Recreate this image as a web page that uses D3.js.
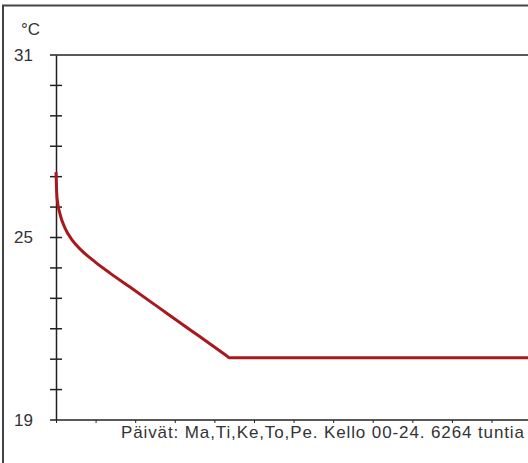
<!DOCTYPE html>
<html>
<head>
<meta charset="utf-8">
<script src="https://cdn.jsdelivr.net/npm/d3@7"></script>
<style>
  html, body { margin: 0; padding: 0; background: #fff; overflow: hidden; }
  text { font-family: "Liberation Sans", Arial, sans-serif; fill: #333; }
</style>
</head>
<body>
<div id="chart"></div>
<script>
// Kestokäyrä: hours sorted by temperature
const hours = [0, 13, 51, 114, 202, 328, 492, 682, 934, 1313, 1692, 2146, 2189, 6264]
const temps = [27.15, 26.3, 25.77, 25.31, 24.92, 24.56, 24.2, 23.83, 23.37, 22.67, 21.97, 21.13, 21.05, 21.05]
const yTicks = [19, 20, 21, 22, 23, 24, 25, 26, 27, 28, 29, 30, 31]
const yLabels = [19, 25, 31]
const xTickStep = 500
const unit = '°C'
const caption = 'Päivät: Ma,Ti,Ke,To,Pe. Kello 00-24. 6264 tuntia'

const width = 528,
height = 463

let svg = d3.select('#chart')
.append('svg')
.attr('width', width)
.attr('height', height)

// outer frame (right and bottom edges are cut off in the picture)
svg.append('path')
.attr('d', `M3,${height} V5.5 H${width}`)
.attr('fill', 'none')
.attr('stroke', '#444')
.attr('stroke-width', 2)

const xScale = d3.scaleLinear()
.domain([0, 6264])
.range([56, 552])

const yScale = d3.scaleLinear()
.domain([19, 31])
.range([420, 55])

// plot top edge
svg.append('line')
.attr('x1', 50).attr('x2', width)
.attr('y1', yScale(31)).attr('y2', yScale(31))
.attr('stroke', '#222')
.attr('stroke-width', 1.5)

// y axis with ticks crossing the line
const yAxis = d3.axisLeft(yScale)
.tickValues(yTicks)
.tickSize(0)
.tickFormat('')

svg.append('g')
.attr('transform', `translate(${xScale(0)},0)`)
.call(yAxis)
.call(g => g.select('.domain').attr('stroke', '#222').attr('stroke-width', 1.5))

svg.append('g')
.selectAll('line')
.data(yTicks.filter(d => d > 19 && d < 31))
.enter()
.append('line')
.attr('x1', xScale(0) - 6).attr('x2', xScale(0) + 6)
.attr('y1', d => yScale(d)).attr('y2', d => yScale(d))
.attr('stroke', '#222')
.attr('stroke-width', 1.5)

svg.append('line')
.attr('x1', 50).attr('x2', xScale(0))
.attr('y1', yScale(19)).attr('y2', yScale(19))
.attr('stroke', '#222')
.attr('stroke-width', 1.5)

svg.append('g')
.selectAll('text')
.data(yLabels)
.enter()
.append('text')
.attr('x', 33)
.attr('y', d => yScale(d))
.attr('dy', '0.35em')
.attr('text-anchor', 'end')
.style('font-size', '17px')
.text(d => d)

svg.append('text')
.attr('x', 21)
.attr('y', 35)
.style('font-size', '17px')
.text(unit)

// x axis
const xAxis = d3.axisBottom(xScale)
.tickValues(d3.range(0, 6264, xTickStep))
.tickSize(3)
.tickFormat('')

svg.append('g')
.attr('transform', `translate(0,${yScale(19)})`)
.call(xAxis)
.call(g => g.select('.domain').remove())
.call(g => g.selectAll('.tick line').attr('stroke', '#222'))

svg.append('line')
.attr('x1', xScale(0)).attr('x2', width)
.attr('y1', yScale(19)).attr('y2', yScale(19))
.attr('stroke', '#222')
.attr('stroke-width', 1.5)

// the curve
const line = d3.line()
.x((d, i) => xScale(hours[i]))
.y(d => yScale(d))
.curve(d3.curveMonotoneX)

svg.append('path')
.datum(temps)
.attr('d', line)
.attr('fill', 'none')
.attr('stroke', '#a8181c')
.attr('stroke-width', 3)

svg.append('text')
.attr('x', 121)
.attr('y', 438)
.attr('textLength', 403)
.attr('lengthAdjust', 'spacing')
.style('font-size', '17px')
.text(caption)
</script>
</body>
</html>
